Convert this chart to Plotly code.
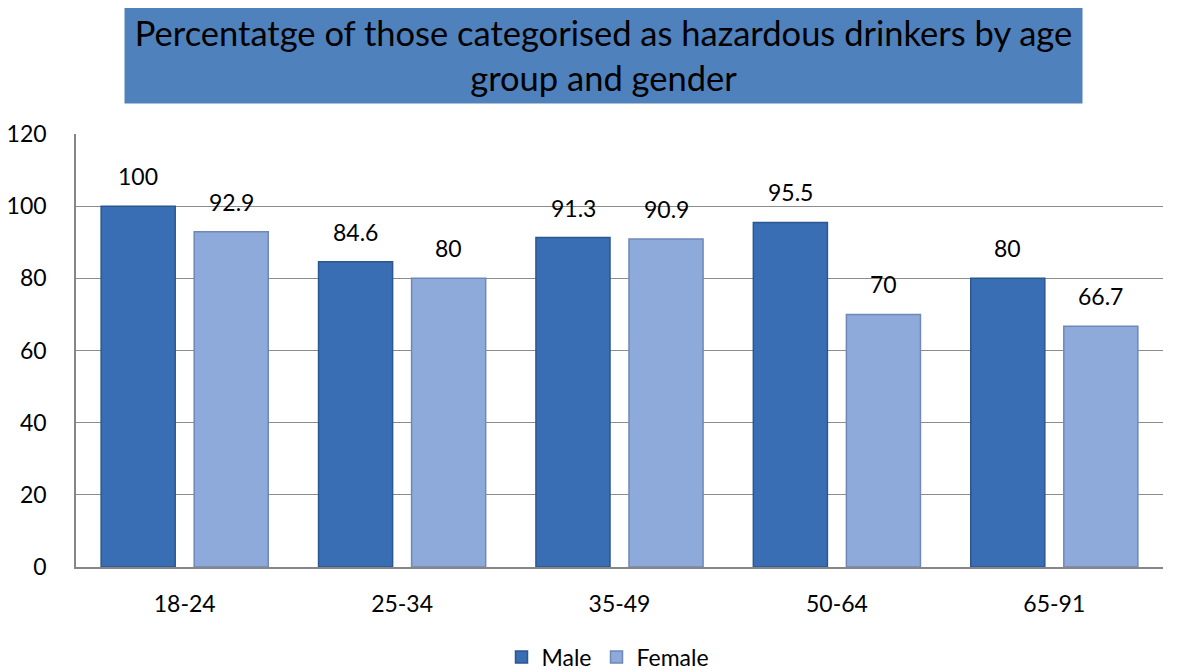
import plotly.graph_objects as go

categories = ["18-24", "25-34", "35-49", "50-64", "65-91"]
male = [100, 84.6, 91.3, 95.5, 80]
female = [92.9, 80, 90.9, 70, 66.7]
y_ticks = [0, 20, 40, 60, 80, 100, 120]
title_text = "Percentatge of those categorised as hazardous drinkers by age<br>group and gender"

FONT = "Lato"

fig = go.Figure()
fig.add_trace(go.Bar(
    name="Male", x=categories, y=male,
    marker=dict(color="#3A6EB4", line=dict(color="#2B5790", width=1.5)),
))
fig.add_trace(go.Bar(
    name="Female", x=categories, y=female,
    marker=dict(color="#8DAADB", line=dict(color="#6F88B6", width=1.5)),
))

# data labels, placed through the axes
for vals, shift in ((male, -46.5), (female, 46.5)):
    for c, v in zip(categories, vals):
        fig.add_annotation(x=c, y=v, xref="x", yref="y", text=f"{v:g}", showarrow=False,
                           xshift=shift, yshift=14, yanchor="bottom",
                           font=dict(size=23, color="black", family=FONT))

ML, MR, MT, MB = 68, 28, 126, 111
fig.update_layout(
    width=1183, height=670,
    margin=dict(l=ML, r=MR, t=MT, b=MB, autoexpand=False),
    paper_bgcolor="white", plot_bgcolor="white",
    barmode="group", bargap=0.144, bargroupgap=0.204,
    font=dict(family=FONT, size=23, color="black"),
    showlegend=True,
    legend=dict(orientation="h", x=(600 - ML) / (1183 - ML - MR), xanchor="center",
                yref="container", y=1 - 649 / 670, yanchor="middle",
                font=dict(size=23), itemwidth=30, traceorder="normal"),
)
fig.update_xaxes(showline=True, linecolor="#868686", linewidth=1.5, ticks="",
                 ticklabelstandoff=16, tickfont=dict(size=23), automargin=False)
fig.update_yaxes(range=[0, 120], tickvals=y_ticks, showgrid=True, gridcolor="#8C8C8C",
                 gridwidth=1, showline=True, linecolor="#868686", linewidth=1.5,
                 zeroline=False, ticks="outside", ticklen=0, ticklabelstandoff=23,
                 tickfont=dict(size=23), automargin=False)

fig.add_annotation(
    x=(595.5 - ML) / (1183 - ML - MR), y=1, xref="paper", yref="paper",
    xanchor="center", yanchor="bottom",
    yshift=30, text=title_text, showarrow=False,
    font=dict(size=34.5, color="black", family=FONT),
    bgcolor="#4F81BD", width=955, height=94, align="center", valign="middle",
)

fig.write_html("out.html")
